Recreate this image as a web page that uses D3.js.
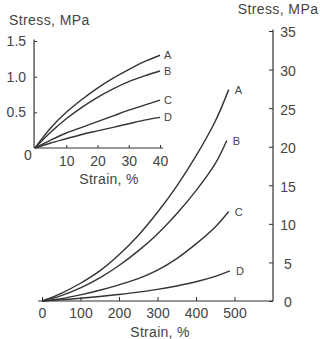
<!DOCTYPE html>
<html><head><meta charset="utf-8">
<script src="https://cdn.jsdelivr.net/npm/d3@7"></script>
<style>
html,body{margin:0;padding:0;background:#fff;}
text{font-family:"Liberation Sans",Arial,sans-serif;fill:#444;}
</style></head>
<body><svg id="c" width="320" height="339"></svg>
<script>
// Main chart (strain up to ~500%)
const seriesNames = ["A","B","C","D"];
const mainA = [[0,0],[50,1.0],[100,2.3],[150,3.9],[200,6.0],[250,8.5],[300,11.5],[350,14.9],[400,18.8],[450,23.3],[485,27.4]];
const mainB = [[0,0],[50,0.7],[100,1.7],[150,3.0],[200,4.6],[250,6.5],[300,8.7],[350,11.3],[400,14.3],[450,17.8],[480,20.8]];
const mainC = [[0,0],[50,0.3],[100,0.8],[150,1.4],[200,2.1],[250,2.9],[300,4.0],[350,5.5],[400,7.4],[450,9.6],[485,11.6]];
const mainD = [[0,0],[50,0.15],[100,0.35],[150,0.58],[200,0.85],[250,1.15],[300,1.5],[350,1.95],[400,2.5],[450,3.2],[488,3.9]];
const mainXTicks = [0,100,200,300,400,500];
const mainYTicks = [0,5,10,15,20,25,30,35];
// Inset chart (strain up to 40%)
const insetA = [[0,0],[5,0.28],[10,0.5],[15,0.68],[20,0.84],[25,0.98],[30,1.1],[35,1.21],[40,1.3]];
const insetB = [[0,0],[5,0.22],[10,0.41],[15,0.57],[20,0.71],[25,0.83],[30,0.93],[35,1.01],[40,1.08]];
const insetC = [[0,0],[5,0.11],[10,0.21],[15,0.29],[20,0.37],[25,0.45],[30,0.53],[35,0.6],[40,0.67]];
const insetD = [[0,0],[5,0.07],[10,0.13],[15,0.19],[20,0.24],[25,0.29],[30,0.34],[35,0.39],[40,0.43]];
const insetXTicks = [10,20,30,40];
const insetYTicks = [0.5,1.0,1.5];
const yTitle = "Stress, MPa";
const xTitle = "Strain, %";

const svg = d3.select("#c");
const stroke = "#333";
const fs = 14;

// ---------- main ----------
const x = d3.scaleLinear().domain([0,600]).range([42,273]);
const y = d3.scaleLinear().domain([0,35]).range([301,31]);
const gM = svg.append("g");
gM.append("line").attr("x1",x(-10)).attr("x2",x(600)).attr("y1",y(0)).attr("y2",y(0)).attr("stroke",stroke).attr("stroke-width",1.2);
gM.append("line").attr("x1",x(600)).attr("x2",x(600)).attr("y1",y(0)).attr("y2",y(35.2)).attr("stroke",stroke).attr("stroke-width",1.2);
const xAx = gM.append("g").attr("transform",`translate(0,${y(0)})`)
  .call(d3.axisTop(x).tickValues(mainXTicks).tickSize(4).tickSizeOuter(0).tickFormat(d3.format("d")));
xAx.select(".domain").remove();
xAx.selectAll("line").attr("stroke",stroke);
xAx.selectAll("text").attr("y",17).attr("dy","0").attr("font-size",fs);
const yAx = gM.append("g").attr("transform",`translate(${x(600)},0)`)
  .call(d3.axisLeft(y).tickValues(mainYTicks).tickSize(4).tickSizeOuter(0).tickFormat(d3.format("d")));
yAx.select(".domain").remove();
yAx.selectAll("line").attr("stroke",stroke);
yAx.selectAll("text").attr("x",15).attr("text-anchor","middle").attr("dy","0.35em").attr("y",1).attr("font-size",fs);
svg.append("text").attr("x",278).attr("y",14).attr("text-anchor","middle").attr("font-size",fs).attr("letter-spacing",0.4).text(yTitle);
svg.append("text").attr("x",160).attr("y",337).attr("text-anchor","middle").attr("font-size",fs).attr("letter-spacing",0.3).text(xTitle);

const lineM = d3.line().x(d=>x(d[0])).y(d=>y(d[1])).curve(d3.curveCatmullRom.alpha(0.5));
[mainA,mainB,mainC,mainD].forEach((s,i)=>{
  gM.append("path").datum(s).attr("d",lineM).attr("fill","none").attr("stroke",stroke).attr("stroke-width",1.4);
  const last = s[s.length-1];
  gM.append("text").attr("x",x(last[0])+6).attr("y",y(last[1])+4).attr("font-size",11).text(seriesNames[i]);
});

// ---------- inset ----------
const xi = d3.scaleLinear().domain([0,40]).range([35,160]);
const yi = d3.scaleLinear().domain([0,1.5]).range([148,41]);
const gI = svg.append("g");
gI.append("line").attr("x1",xi(-0.3)).attr("x2",xi(41)).attr("y1",yi(0)).attr("y2",yi(0)).attr("stroke",stroke).attr("stroke-width",1.2);
gI.append("line").attr("x1",xi(-0.3)).attr("x2",xi(-0.3)).attr("y1",yi(0)).attr("y2",yi(1.52)).attr("stroke",stroke).attr("stroke-width",1.2);
const xiAx = gI.append("g").attr("transform",`translate(0,${yi(0)})`)
  .call(d3.axisTop(xi).tickValues(insetXTicks).tickSize(3).tickSizeOuter(0).tickFormat(d3.format("d")));
xiAx.select(".domain").remove();
xiAx.selectAll("line").attr("stroke",stroke);
xiAx.selectAll("text").attr("y",18).attr("dy","0").attr("font-size",fs);
const yiAx = gI.append("g").attr("transform",`translate(${xi(-0.3)},0)`)
  .call(d3.axisRight(yi).tickValues(insetYTicks).tickSize(3).tickSizeOuter(0).tickFormat(d3.format(".1f")));
yiAx.select(".domain").remove();
yiAx.selectAll("line").attr("stroke",stroke);
yiAx.selectAll("text").attr("x",-8).attr("text-anchor","end").attr("font-size",fs);
gI.append("text").attr("x",28).attr("y",yi(0)+12).attr("text-anchor","middle").attr("font-size",fs).text("0");
svg.append("text").attr("x",9).attr("y",25).attr("font-size",fs).attr("letter-spacing",0.4).text(yTitle);
svg.append("text").attr("x",109).attr("y",184).attr("text-anchor","middle").attr("font-size",fs).attr("letter-spacing",0.3).text(xTitle);

const lineI = d3.line().x(d=>xi(d[0])).y(d=>yi(d[1])).curve(d3.curveCatmullRom.alpha(0.5));
[insetA,insetB,insetC,insetD].forEach((s,i)=>{
  gI.append("path").datum(s).attr("d",lineI).attr("fill","none").attr("stroke",stroke).attr("stroke-width",1.4);
  const last = s[s.length-1];
  gI.append("text").attr("x",xi(last[0])+4).attr("y",yi(last[1])+4).attr("font-size",11).text(seriesNames[i]);
});
</script></body></html>
